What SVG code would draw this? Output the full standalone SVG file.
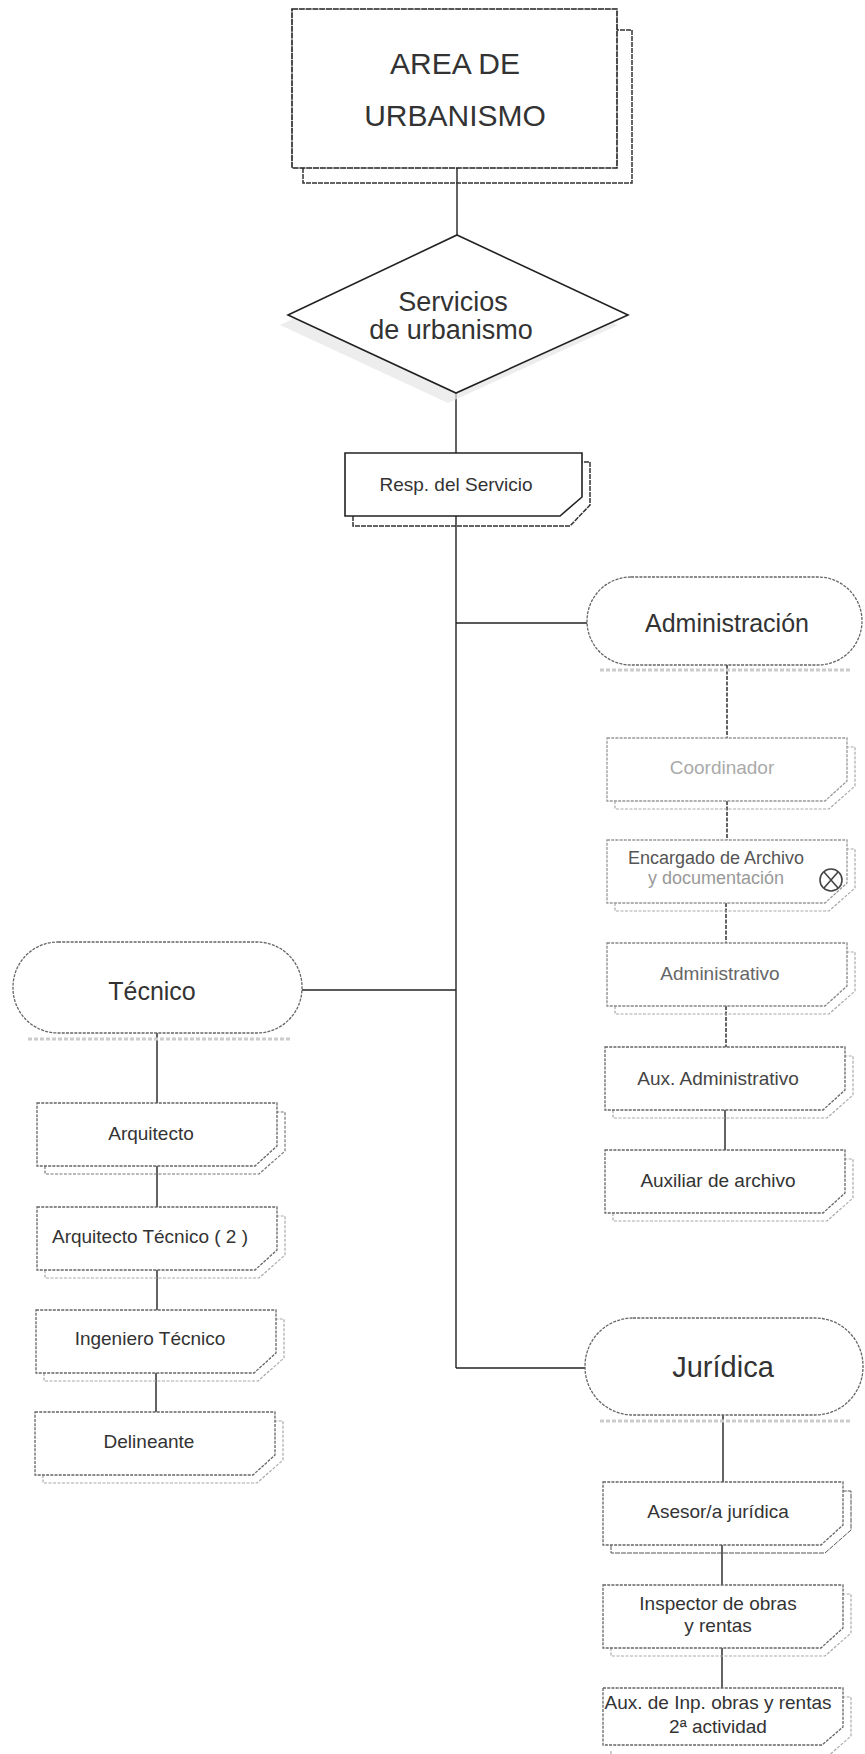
<svg xmlns="http://www.w3.org/2000/svg" xmlns:xlink="http://www.w3.org/1999/xlink" width="865" height="1754" viewBox="0 0 865 1754">
<style>
  .t{font-family:"Liberation Sans",Arial,sans-serif;fill:#333;text-anchor:middle}
  .big{font-size:30px}
  .dia{font-size:27px}
  .pill{font-size:25px}
  .sm{font-size:19px}
  .solid{fill:#fff;stroke:#222;stroke-width:1.6}
  .dot{fill:#fff;stroke:#666;stroke-width:1.3;stroke-dasharray:3 1.2}
  .shd{fill:none;stroke:#aaa;stroke-width:1.2;stroke-dasharray:3 1.5}
  .shdk{fill:none;stroke:#333;stroke-width:1.5;stroke-dasharray:5 1}
  .conn{fill:none;stroke:#222;stroke-width:1.4}
</style>
<defs>
  <path id="box" d="M0 0 H240 V43 L218 63 H0 Z"/>
  <path id="boxsh" d="M8 63 V71 H222 L248 48 V9 H240"/>
</defs>
<rect width="865" height="1754" fill="#fff"/>

<g id="connectors">
  <line class="conn" x1="457" y1="168" x2="457" y2="235"/>
  <line class="conn" x1="456" y1="393" x2="456" y2="453"/>
  <line class="conn" x1="456" y1="516" x2="456" y2="1368"/>
  <line class="conn" x1="456" y1="623" x2="587" y2="623"/>
  <line class="conn" x1="302" y1="990" x2="456" y2="990"/>
  <line class="conn" x1="456" y1="1368" x2="585" y2="1368"/>
  <line class="conn" x1="157" y1="1033" x2="157" y2="1103"/>
  <line class="conn" x1="157" y1="1166" x2="157" y2="1207"/>
  <line class="conn" x1="157" y1="1270" x2="157" y2="1310"/>
  <line class="conn" x1="156" y1="1373" x2="156" y2="1412"/>
  <line class="conn" x1="727" y1="665" x2="727" y2="738" stroke-dasharray="4 1.5"/>
  <line class="conn" x1="727" y1="801" x2="727" y2="840" stroke-dasharray="4 1.5"/>
  <line class="conn" x1="726" y1="903" x2="726" y2="943" stroke-dasharray="4 1.5"/>
  <line class="conn" x1="726" y1="1006" x2="726" y2="1047" stroke-dasharray="4 1.5"/>
  <line class="conn" x1="725" y1="1110" x2="725" y2="1150"/>
  <line class="conn" x1="723" y1="1415" x2="723" y2="1482"/>
  <line class="conn" x1="722" y1="1545" x2="722" y2="1585"/>
  <line class="conn" x1="722" y1="1648" x2="722" y2="1688"/>
</g>

<g id="area">
  <path class="shdk" d="M303 168 V183 H632 V30 H617"/>
  <rect class="solid" x="292" y="9" width="325" height="159" stroke-dasharray="6 0.8"/>
  <text class="t big" x="455" y="74">AREA DE</text>
  <text class="t big" x="455" y="126">URBANISMO</text>
</g>

<g id="servicios">
  <polygon points="450,245 618,325 448,403 280,325" fill="#e6e6e6" opacity="0.7"/>
  <polygon class="solid" points="457,235 628,315 456,393 288,315"/>
  <text class="t dia" x="453" y="311">Servicios</text>
  <text class="t dia" x="451" y="339">de urbanismo</text>
</g>

<g id="resp">
  <path class="shdk" d="M353 516 V526 H570 L590 505 V462 H582" stroke="#555" stroke-width="1"/>
  <path class="solid" d="M345 453 H582 V497 L560 516 H345 Z"/>
  <text class="t sm" x="456" y="491">Resp. del Servicio</text>
</g>

<g id="administracion">
  <path d="M600 670 H850" stroke="#ccc" stroke-width="3" stroke-dasharray="4 2"/>
  <rect class="dot" x="587" y="577" width="275" height="88" rx="44"/>
  <text class="t pill" x="727" y="632" fill="#444">Administración</text>
</g>

<g id="tecnico">
  <path d="M28 1039 H290" stroke="#ccc" stroke-width="3" stroke-dasharray="4 2"/>
  <rect class="dot" x="13" y="942" width="289" height="91" rx="45"/>
  <text class="t pill" x="152" y="1000">Técnico</text>
</g>

<g id="juridica">
  <path d="M600 1421 H850" stroke="#ccc" stroke-width="3" stroke-dasharray="4 2"/>
  <rect class="dot" x="585" y="1318" width="278" height="97" rx="48"/>
  <text class="t pill" x="723" y="1377" style="font-size:29px">Jurídica</text>
</g>

<g id="arquitecto">
  <use href="#boxsh" x="37" y="1103" class="shd" style="stroke:#777"/>
  <use href="#box" x="37" y="1103" class="dot"/>
  <text class="t sm" x="151" y="1140">Arquitecto</text>
</g>
<g id="arquitecto-tecnico">
  <use href="#boxsh" x="37" y="1207" class="shd"/>
  <use href="#box" x="37" y="1207" class="dot"/>
  <text class="t sm" x="150" y="1243">Arquitecto Técnico ( 2 )</text>
</g>
<g id="ingeniero">
  <use href="#boxsh" x="36" y="1310" class="shd"/>
  <use href="#box" x="36" y="1310" class="dot"/>
  <text class="t sm" x="150" y="1345">Ingeniero Técnico</text>
</g>
<g id="delineante">
  <use href="#boxsh" x="35" y="1412" class="shd"/>
  <use href="#box" x="35" y="1412" class="dot"/>
  <text class="t sm" x="149" y="1448">Delineante</text>
</g>

<g id="coordinador">
  <use href="#boxsh" x="607" y="738" class="shd"/>
  <use href="#box" x="607" y="738" class="dot" style="stroke:#999"/>
  <text class="t sm" x="722" y="774" style="fill:#aaa">Coordinador</text>
</g>
<g id="encargado">
  <use href="#boxsh" x="607" y="840" class="shd"/>
  <use href="#box" x="607" y="840" class="dot" style="stroke:#999"/>
  <text class="t sm" x="716" y="864" style="fill:#555;font-size:18px">Encargado de Archivo</text>
  <text class="t sm" x="716" y="884" style="fill:#999;font-size:18px">y documentación</text>
  <circle cx="831" cy="880" r="11" fill="#fff" stroke="#444" stroke-width="1.6"/>
  <path d="M824 872 L838 888 M838 872 L824 888" stroke="#444" stroke-width="1.6"/>
</g>
<g id="administrativo">
  <use href="#boxsh" x="607" y="943" class="shd"/>
  <use href="#box" x="607" y="943" class="dot" style="stroke:#888"/>
  <text class="t sm" x="720" y="980" style="fill:#666">Administrativo</text>
</g>
<g id="aux-administrativo">
  <use href="#boxsh" x="605" y="1047" class="shd"/>
  <use href="#box" x="605" y="1047" class="dot"/>
  <text class="t sm" x="718" y="1085" style="fill:#444">Aux. Administrativo</text>
</g>
<g id="auxiliar-archivo">
  <use href="#boxsh" x="605" y="1150" class="shd"/>
  <use href="#box" x="605" y="1150" class="dot"/>
  <text class="t sm" x="718" y="1187">Auxiliar de archivo</text>
</g>

<g id="asesor">
  <use href="#boxsh" x="603" y="1482" class="shdk" style="stroke:#555;stroke-width:1"/>
  <use href="#box" x="603" y="1482" class="dot"/>
  <text class="t sm" x="718" y="1518">Asesor/a jurídica</text>
</g>
<g id="inspector">
  <use href="#boxsh" x="603" y="1585" class="shd"/>
  <use href="#box" x="603" y="1585" class="dot"/>
  <text class="t sm" x="718" y="1610">Inspector de obras</text>
  <text class="t sm" x="718" y="1632">y rentas</text>
</g>
<g id="aux-inspector">
  <use href="#boxsh" x="603" y="1688" class="shd"/>
  <path class="dot" d="M603 1688 H843 V1727 L822 1745 H603 Z"/>
  <text class="t sm" x="718" y="1709">Aux. de Inp. obras y rentas</text>
  <text class="t sm" x="718" y="1733">2ª actividad</text>
</g>
</svg>
